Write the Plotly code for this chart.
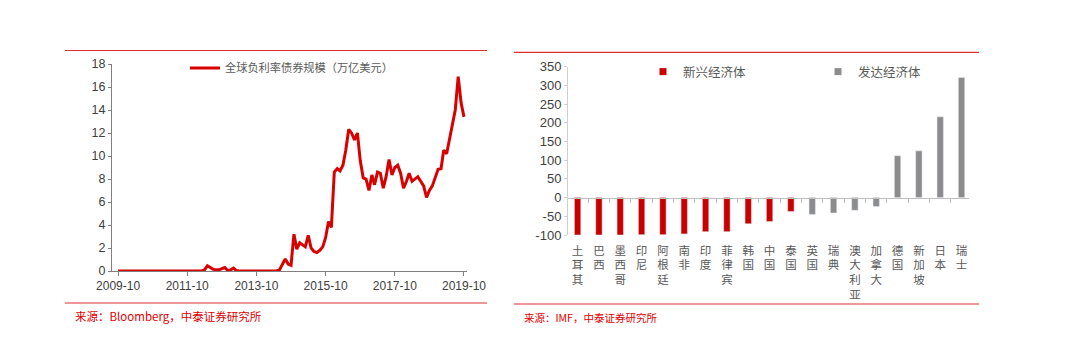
import pandas as pd
import plotly.graph_objects as go

# ---------------- data ----------------
# Left: global negative-yielding debt (trillion USD), monthly from 2009-10
neg_yield_start = "2009-10-01"
neg_yield_values = [
    0.0, 0.0, 0.0, 0.0, 0.0, 0.0, 0.0, 0.0, 0.0, 0.0,
    0.0, 0.0, 0.0, 0.0, 0.0, 0.0, 0.0, 0.0, 0.0, 0.0,
    0.0, 0.0, 0.0, 0.0, 0.0, 0.0, 0.0, 0.0, 0.0, 0.0,
    0.1, 0.45, 0.3, 0.15, 0.1, 0.1, 0.2, 0.3, 0.05, 0.1,
    0.25, 0.05, 0.0, 0.0, 0.0, 0.0, 0.0, 0.0, 0.0, 0.0,
    0.0, 0.0, 0.0, 0.0, 0.0, 0.0,
    0.1, 0.6, 1.05, 0.6, 0.5, 3.2, 1.9, 2.45, 2.3, 2.1,
    3.1, 2.0, 1.7, 1.6, 1.8, 2.1, 2.9, 4.3, 3.8, 8.6,
    8.9, 8.7, 9.2, 10.5, 12.3, 12.0, 11.4, 12.0, 9.6, 8.1,
    8.0, 7.0, 8.35, 7.5, 8.6, 8.5, 7.2, 8.2, 9.7, 8.35,
    9.0, 9.2, 8.5, 7.2, 7.8, 8.5, 7.8, 8.0, 8.2, 7.8,
    7.4, 6.4, 7.0, 7.4, 8.2, 8.85, 8.9, 10.5, 10.2, 11.5,
    12.6, 14.0, 16.9, 14.6, 13.4,
]
neg_yield_name = "全球负利率债券规模（万亿美元）"
left_y_ticks = [0, 2, 4, 6, 8, 10, 12, 14, 16, 18]

# Right: by economy
emerging_names = ["土耳其", "巴西", "墨西哥", "印尼", "阿根廷", "南非", "印度",
                  "菲律宾", "韩国", "中国", "泰国"]
emerging_values = [-100, -100, -100, -99, -99, -97, -91, -91, -70, -64, -37]
developed_names = ["英国", "瑞典", "澳大利亚", "加拿大", "德国", "新加坡", "日本", "瑞士"]
developed_values = [-45, -41, -34, -24, 112, 125, 216, 321]
right_y_ticks = [-100, -50, 0, 50, 100, 150, 200, 250, 300, 350]
right_y_ticktext = ["-100", "-50", "0", "50", "100", "150", "200", "250", "300", "350"]

# ---------------- styling ----------------
W, H = 1074, 351
RED_LINE = "#d90000"
RED_BAR = "#c80000"
GRAY_BAR = "#8c8c8c"
TXT = "#404040"
NUM_FONT = "Liberation Sans, Arial"
CJK_FONT = "Noto Sans CJK SC"

def px_x(p):
    return p / W

def px_y(p):
    return 1 - p / H

dates = pd.date_range(neg_yield_start, periods=len(neg_yield_values), freq="MS")
categories = emerging_names + developed_names

fig = go.Figure()
fig.add_trace(go.Scatter(
    x=dates, y=neg_yield_values, mode="lines", name=neg_yield_name,
    line=dict(color=RED_LINE, width=3), xaxis="x", yaxis="y", legend="legend",
))
fig.add_trace(go.Bar(
    x=emerging_names, y=emerging_values, marker_color=RED_BAR, width=0.3,
    xaxis="x2", yaxis="y2", showlegend=False,
))
fig.add_trace(go.Bar(
    x=developed_names, y=developed_values, marker_color=GRAY_BAR, width=0.3,
    xaxis="x2", yaxis="y2", showlegend=False,
))
# legend proxies
fig.add_trace(go.Scatter(
    x=[None], y=[None], mode="markers", name="新兴经济体",
    marker=dict(symbol="square", size=7, color=RED_BAR),
    xaxis="x2", yaxis="y2", legend="legend2",
))
fig.add_trace(go.Scatter(
    x=[None], y=[None], mode="markers", name="发达经济体",
    marker=dict(symbol="square", size=7, color=GRAY_BAR),
    xaxis="x2", yaxis="y2", legend="legend2",
))
# dummy trace for zero-line axis
fig.add_trace(go.Scatter(
    x=[None], y=[None], mode="markers", xaxis="x3", yaxis="y2",
    showlegend=False, hoverinfo="skip",
))

right_dom = [px_y(235), px_y(66.7)]
r_lo, r_hi = right_y_ticks[0], right_y_ticks[-1]
zero_pos = right_dom[0] + (0 - r_lo) / (r_hi - r_lo) * (right_dom[1] - right_dom[0])
cat_range = [-0.45, len(categories) - 1 + 0.35]

fig.update_layout(
    width=W, height=H, margin=dict(l=0, r=0, t=0, b=0, autoexpand=False),
    paper_bgcolor="white", plot_bgcolor="white",
    barmode="relative", showlegend=True,
    xaxis=dict(
        domain=[px_x(112), px_x(467)], anchor="y", type="date", automargin=False,
        range=["2009-07-29", "2019-11-02"],
        tick0="2009-10-01", dtick="M24", tickformat="%Y-%m",
        showgrid=False, zeroline=False, showline=True, linecolor="#808080", linewidth=1,
        ticks="outside", ticklen=4, tickcolor="#808080",
        tickfont=dict(family=NUM_FONT, size=12, color=TXT),
    ),
    yaxis=dict(
        domain=[px_y(271), px_y(64)], anchor="x", range=[0, 18], automargin=False,
        tickvals=left_y_ticks, showgrid=False, zeroline=False,
        showline=True, linecolor="#808080", linewidth=1,
        ticks="outside", ticklen=3, tickcolor="#808080",
        tickfont=dict(family=NUM_FONT, size=12.5, color=TXT),
    ),
    xaxis2=dict(
        domain=[px_x(568), px_x(969)], anchor="y2", type="category", automargin=False,
        categoryorder="array", categoryarray=categories, range=cat_range,
        tickvals=categories, ticktext=["<br>".join(list(c)) for c in categories],
        showgrid=False, zeroline=False, showline=False, ticks="",
        ticklabelstandoff=7,
        tickfont=dict(family=CJK_FONT, size=11.5, color="#595959"),
    ),
    xaxis3=dict(
        domain=[px_x(568), px_x(969)], overlaying="x2", anchor="free", position=zero_pos,
        range=cat_range, tickvals=[i + 0.5 for i in range(len(categories) - 1)],
        showticklabels=False, showgrid=False, zeroline=False, automargin=False,
        showline=True, linecolor="#bfbfbf", linewidth=1,
        ticks="outside", ticklen=4, tickcolor="#bfbfbf",
    ),
    yaxis2=dict(
        domain=right_dom, anchor="x2", range=[r_lo, r_hi], automargin=False,
        tickvals=right_y_ticks, ticktext=right_y_ticktext,
        showgrid=False, zeroline=False, showline=True, linecolor="#d0d0d0", linewidth=1,
        ticks="outside", ticklen=3, tickcolor="#d0d0d0",
        tickfont=dict(family="Liberation Sans, Arial", size=13, color=TXT),
    ),
    legend=dict(
        x=px_x(185), y=px_y(68), xanchor="left", yanchor="middle",
        bgcolor="rgba(0,0,0,0)", font=dict(family=CJK_FONT, size=11.2, color="#595959"),
        itemclick=False, itemdoubleclick=False,
    ),
    legend2=dict(
        x=px_x(643), y=px_y(72), xanchor="left", yanchor="middle",
        orientation="h", entrywidth=130, entrywidthmode="pixels",
        bgcolor="rgba(0,0,0,0)", font=dict(family=CJK_FONT, size=12.5, color="#595959"),
        itemclick=False, itemdoubleclick=False,
    ),
)

# frame lines (decorative red rules)
for x0, x1, y in [(65, 487, 50.5), (65, 487, 303), (514, 979, 52.3), (514, 979, 304)]:
    fig.add_shape(type="line", xref="paper", yref="paper",
                  x0=px_x(x0), x1=px_x(x1), y0=px_y(y), y1=px_y(y),
                  line=dict(color="#e03030", width=1.2))

fig.add_annotation(text="来源：Bloomberg，中泰证券研究所", xref="paper", yref="paper",
                   x=px_x(73), y=px_y(316), xanchor="left", yanchor="middle", showarrow=False,
                   font=dict(family=CJK_FONT, size=11.5, color="#e00000"))
fig.add_annotation(text="来源：IMF，中泰证券研究所", xref="paper", yref="paper",
                   x=px_x(522), y=px_y(317), xanchor="left", yanchor="middle", showarrow=False,
                   font=dict(family=CJK_FONT, size=10.5, color="#e00000"))

fig.write_html("out.html")
